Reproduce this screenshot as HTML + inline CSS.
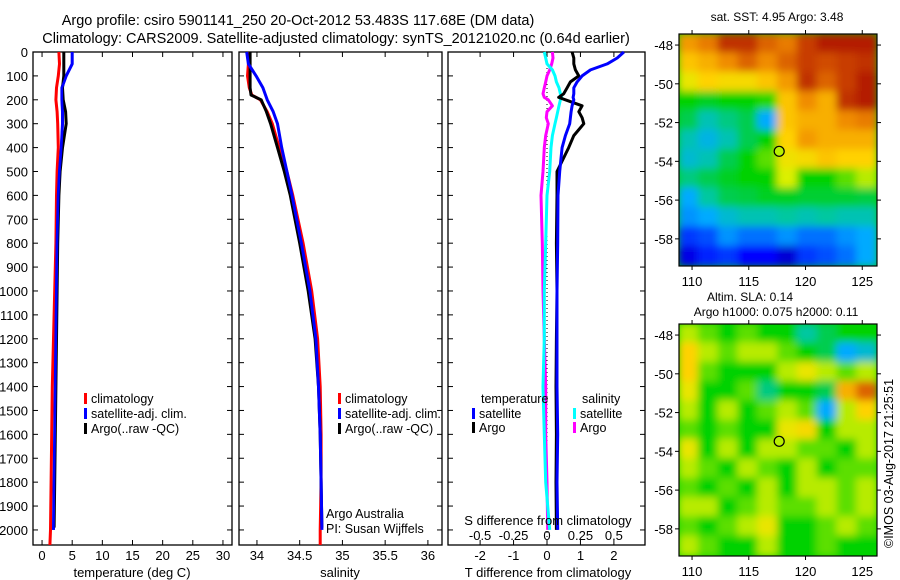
<!DOCTYPE html>
<html><head><meta charset="utf-8"><style>
html,body{margin:0;padding:0;background:#fff;}
svg{display:block;font-family:"Liberation Sans",sans-serif;}
</style></head><body>
<svg id="fig" width="900" height="580" viewBox="0 0 900 580" xmlns="http://www.w3.org/2000/svg">
<text x="298" y="25" font-size="14.5" text-anchor="middle">Argo profile: csiro 5901141_250 20-Oct-2012 53.483S 117.68E (DM data)</text>
<text x="336" y="43" font-size="14.5" text-anchor="middle">Climatology: CARS2009. Satellite-adjusted climatology: synTS_20121020.nc (0.64d earlier)</text>
<g id="g1"></g>
<g id="g2"></g>
<g id="g3"></g>
<g id="m1"></g>
<g id="m2"></g>
<text transform="translate(893,548) rotate(-90)" font-size="12.5">©IMOS 03-Aug-2017 21:25:51</text>
</svg>
<script>
// ---- data ----
const tDepths=[0,50,100,150,200,250,300,400,500,600,800,1000,1200,1400,1600,1800,2000];
const tClimDepths=[0,50,100,150,200,250,300,400,500,600,800,1000,1200,1400,1600,1800,2000,2063];
const tClim=[2.8,2.9,2.7,2.4,2.3,2.5,2.6,2.7,2.5,2.4,2.3,2.1,1.9,1.7,1.6,1.5,1.4,1.3];
const tSat=[5.0,5.0,4.0,3.3,3.3,3.4,3.4,3.2,2.9,2.7,2.5,2.4,2.3,2.2,2.1,2.0,1.9];
const tArgo=[3.6,3.6,3.6,3.4,3.5,3.9,4.0,3.4,3.0,2.8,2.6,2.5,2.4,2.3,2.2,2.1,2.0];
const sDepths=[0,50,100,150,180,200,250,300,400,500,600,800,1000,1200,1400,1600,1800,2000];
const sClimDepths=[0,50,100,150,180,200,250,300,400,500,600,800,1000,1200,1400,1600,1800,2000,2063];
const sArgo=[33.92,33.92,33.92,33.92,33.93,34.05,34.11,34.16,34.24,34.32,34.39,34.5,34.6,34.68,34.72,34.74,34.75,34.76];
const sClim=[33.90,33.90,33.89,33.91,33.94,34.04,34.12,34.18,34.26,34.35,34.42,34.54,34.64,34.71,34.74,34.75,34.75,34.74,34.74];
const sSat=[33.88,33.90,33.99,34.07,34.1,34.12,34.19,34.24,34.29,34.35,34.41,34.52,34.62,34.69,34.72,34.74,34.75,34.76];
const dDepths=[0,25,50,75,100,125,150,175,190,200,225,250,275,300,350,400,500,600,800,1000,1200,1400,1600,1800,2000];
const dTSat=[2.3,2.1,1.8,1.3,1.05,0.9,0.8,0.8,0.78,0.8,0.75,0.72,0.7,0.68,0.55,0.45,0.38,0.33,0.32,0.3,0.3,0.3,0.32,0.3,0.32];
const dTArgo=[0.75,0.8,0.8,0.85,0.95,0.7,0.6,0.5,0.35,0.55,1.05,0.95,1.05,1.1,0.8,0.65,0.3,0.3,0.28,0.3,0.28,0.27,0.28,0.27,0.28];
const dSArgo=[0.04,0.045,0.035,0.02,0.0,-0.01,-0.02,-0.03,-0.02,0.01,0.04,0.0,-0.005,0.01,-0.01,-0.02,-0.03,-0.045,-0.035,-0.03,-0.02,-0.01,-0.01,0,0.005];
const dSSat=[-0.02,-0.01,0.0,0.04,0.06,0.07,0.09,0.1,0.11,0.1,0.09,0.08,0.07,0.06,0.04,0.03,0.02,0.0,-0.01,-0.02,-0.02,-0.03,-0.02,-0.01,0.02];
const depthTicks=[0,100,200,300,400,500,600,700,800,900,1000,1100,1200,1300,1400,1500,1600,1700,1800,1900,2000];
const tTicks=[0,5,10,15,20,25,30];
const sTicks=["34","34.5","35","35.5","36"];
const dTTicks=["-2","-1","0","1","2"];
const dSTicks=["-0.5","-0.25","0","0.25","0.5"];
const sstGrid=[
[0.78,0.82,0.92,0.92,0.85,0.82,0.9,0.95,0.95,0.95],
[0.72,0.75,0.8,0.85,0.8,0.85,0.9,0.88,0.9,0.92],
[0.65,0.7,0.68,0.68,0.72,0.78,0.92,0.85,0.9,0.95],
[0.5,0.48,0.5,0.5,0.52,0.72,0.8,0.75,0.92,0.95],
[0.45,0.38,0.42,0.45,0.3,0.72,0.75,0.75,0.8,0.82],
[0.38,0.33,0.38,0.45,0.5,0.7,0.78,0.75,0.75,0.75],
[0.35,0.38,0.45,0.5,0.55,0.66,0.68,0.72,0.7,0.7],
[0.42,0.45,0.48,0.5,0.5,0.62,0.5,0.5,0.55,0.6],
[0.3,0.4,0.45,0.46,0.48,0.48,0.47,0.47,0.47,0.46],
[0.28,0.3,0.35,0.38,0.38,0.4,0.38,0.4,0.38,0.38],
[0.2,0.22,0.28,0.25,0.25,0.28,0.25,0.25,0.28,0.3],
[0.12,0.18,0.2,0.15,0.15,0.1,0.2,0.22,0.25,0.3]];
const slaGrid=[
[0.6,0.55,0.5,0.55,0.5,0.5,0.4,0.45,0.5,0.5],
[0.7,0.6,0.55,0.6,0.6,0.55,0.5,0.45,0.3,0.35],
[0.7,0.55,0.5,0.5,0.5,0.6,0.65,0.6,0.55,0.6],
[0.65,0.5,0.5,0.55,0.42,0.5,0.5,0.45,0.75,0.85],
[0.6,0.5,0.6,0.5,0.55,0.6,0.55,0.3,0.6,0.7],
[0.55,0.5,0.55,0.5,0.5,0.65,0.68,0.5,0.6,0.6],
[0.65,0.5,0.6,0.5,0.6,0.6,0.55,0.55,0.5,0.6],
[0.6,0.55,0.5,0.6,0.55,0.5,0.6,0.5,0.55,0.55],
[0.55,0.5,0.55,0.5,0.6,0.5,0.6,0.6,0.55,0.6],
[0.6,0.6,0.5,0.55,0.6,0.55,0.55,0.6,0.55,0.6],
[0.55,0.5,0.55,0.6,0.65,0.5,0.5,0.55,0.6,0.55],
[0.6,0.55,0.5,0.5,0.6,0.5,0.5,0.55,0.5,0.5]];
const lonTicks=[110,115,120,125];
const latTicks=[-48,-50,-52,-54,-56,-58];
const argoPos=[117.68,-53.483];

const NS="http://www.w3.org/2000/svg";
function mk(tag,attrs,parent){const e=document.createElementNS(NS,tag);for(const k in attrs)e.setAttribute(k,attrs[k]);parent.appendChild(e);return e;}
const TOP=52,BOT=545,DMAX=2063;
const yD=d=>TOP+d/DMAX*(BOT-TOP);
function lin(d0,d1,r0,r1){return v=>r0+(v-d0)/(d1-d0)*(r1-r0);}

function frame(g,x0,x1,labels){
  const r=mk('rect',{x:x0,y:TOP,width:x1-x0,height:BOT-TOP,fill:'none',stroke:'#000','stroke-width':1.3},g);
  
  depthTicks.forEach(d=>{
    const y=yD(d);
    mk('line',{x1:x0,x2:x0+5,y1:y,y2:y,stroke:'#000'},g);
    mk('line',{x1:x1-5,x2:x1,y1:y,y2:y,stroke:'#000'},g);
    if(labels){const t=mk('text',{x:x0-5,y:y+5,'font-size':13,'text-anchor':'end'},g);t.textContent=d;
      }
  });
}
function xticks(g,vals,sx,y,labelY){
  vals.forEach(v=>{const x=sx(parseFloat(v));
    mk('line',{x1:x,x2:x,y1:BOT,y2:BOT-5,stroke:'#000'},g);
    mk('line',{x1:x,x2:x,y1:TOP,y2:TOP+5,stroke:'#000'},g);
    const t=mk('text',{x:x,y:labelY,'font-size':13,'text-anchor':'middle'},g);t.textContent=v;
    });
}
function line(g,xs,ds,sx,color,name,w){
  const pts=xs.map((v,i)=>sx(v).toFixed(1)+','+yD(ds[i]).toFixed(1)).join(' ');
  const p=mk('polyline',{points:pts,fill:'none',stroke:color,'stroke-width':w||3,'stroke-linejoin':'round'},g);
  
}
function legend(g,x,y,color,label){
  mk('rect',{x:x,y:y-10,width:3,height:11,fill:color},g);
  const t=mk('text',{x:x+7,y:y,'font-size':12.5},g);t.textContent=label;
  
}
function txt(g,x,y,s,anchor,size,name){const t=mk('text',{x:x,y:y,'font-size':size||13,'text-anchor':anchor||'start'},g);t.textContent=s;
  return t;}

// panel 1
const g1=document.getElementById('g1');
const sx1=lin(-1.5,31.5,33,232);
frame(g1,33,232,true);
xticks(g1,tTicks,sx1,BOT,560);
line(g1,tClim,tClimDepths,sx1,'#f00','climatology-temp-line');
line(g1,tSat,tDepths,sx1,'#00f','satellite-temp-line');
line(g1,tArgo,tDepths.map(d=>Math.min(d,1990)),sx1,'#000','argo-temp-line');
line(g1,tSat,tDepths,sx1,'#00f','satellite-temp-line-top',2.5);
legend(g1,84,403,'#f00','climatology');
legend(g1,84,418,'#00f','satellite-adj. clim.');
legend(g1,84,433,'#000','Argo(..raw -QC)');
txt(g1,132,577,'temperature (deg C)','middle',13,'x-axis-title');

// panel 2
const g2=document.getElementById('g2');
const sx2=lin(33.79,36.165,239,442);
frame(g2,239,442,false);
xticks(g2,sTicks,sx2,BOT,560);
line(g2,sClim,sClimDepths,sx2,'#f00','climatology-sal-line');
line(g2,sArgo,sDepths.map(d=>Math.min(d,1990)),sx2,'#000','argo-sal-line');
line(g2,sSat,sDepths,sx2,'#00f','satellite-sal-line');
legend(g2,338,403,'#f00','climatology');
legend(g2,338,418,'#00f','satellite-adj. clim.');
legend(g2,338,433,'#000','Argo(..raw -QC)');
txt(g2,326,518,'Argo Australia','start',12.5,'credit-line-1');
txt(g2,326,533,'PI: Susan Wijffels','start',12.5,'credit-line-2');
txt(g2,340,577,'salinity','middle',13,'x-axis-title');

// panel 3
const g3=document.getElementById('g3');
const sxT=lin(-2.96,2.93,448,645);
const sxS=v=>sxT(v*4);
frame(g3,448,645,false);
xticks(g3,dTTicks,sxT,BOT,560);
dSTicks.forEach(v=>{const t=txt(g3,sxS(parseFloat(v)),540,v,'middle',13,'s-tick-label');});
mk('line',{x1:sxT(0),x2:sxT(0),y1:TOP,y2:BOT,stroke:'#000','stroke-dasharray':'1,3'},g3);
line(g3,dSArgo,dDepths,sxS,'#f0f','argo-sal-diff-line');
line(g3,dSSat,dDepths,sxS,'#0ff','satellite-sal-diff-line');
line(g3,dTArgo,dDepths,sxT,'#000','argo-temp-diff-line');
line(g3,dTSat,dDepths,sxT,'#00f','satellite-temp-diff-line');
txt(g3,481,403,'temperature','start',12.5,'legend-heading-temp');
txt(g3,582,403,'salinity','start',12.5,'legend-heading-sal');
legend(g3,472,418,'#00f','satellite');
legend(g3,472,432,'#000','Argo');
legend(g3,573,418,'#0ff','satellite');
legend(g3,573,432,'#f0f','Argo');
txt(g3,548,525,'S difference from climatology','middle',13,'s-axis-title');
txt(g3,548,577,'T difference from climatology','middle',13,'t-axis-title');

// maps
const stops=[[0,[0,0,130]],[0.15,[0,0,255]],[0.3,[0,170,255]],[0.4,[0,200,160]],[0.5,[0,210,0]],[0.62,[220,240,0]],[0.7,[255,210,0]],[0.8,[240,140,0]],[0.9,[200,60,0]],[1,[160,0,0]]];
function cmap(v){for(let i=1;i<stops.length;i++){if(v<=stops[i][0]){const a=stops[i-1],b=stops[i],t=(v-a[0])/(b[0]-a[0]);
  return 'rgb('+a[1].map((c,k)=>Math.round(c+(b[1][k]-c)*t)).join(',')+')';}}return 'rgb(160,0,0)';}
function drawMap(id,grid,top){
  const g=document.getElementById(id);
  const x0=679,x1=877,y0=top,y1=top+232;
  const lx=lin(108.85,126.3,x0,x1), ly=lin(-47.43,-59.4,y0,y1);
  const clipId='clip'+id;
  const cp=mk('clipPath',{id:clipId},g);mk('rect',{x:x0,y:y0,width:x1-x0,height:y1-y0},cp);
  const fid='blur'+id;
  const f=mk('filter',{id:fid,x:'-10%',y:'-10%',width:'120%',height:'120%'},g);mk('feGaussianBlur',{stdDeviation:4},f);
  const cg=mk('g',{'clip-path':'url(#'+clipId+')'},g);
  mk('rect',{x:x0,y:y0,width:x1-x0,height:y1-y0,fill:cmap(0.5)},cg);
  const bg=mk('g',{filter:'url(#'+fid+')'},cg);
  const rows=grid.length,cols=grid[0].length,cw=(x1-x0)/cols,ch=(y1-y0)/rows;
  grid.forEach((row,r)=>row.forEach((v,c)=>{
    const cell=mk('rect',{x:x0+c*cw-1,y:y0+r*ch-1,width:cw+2,height:ch+2,fill:cmap(v)},bg);
    
  }));
  const fr=mk('rect',{x:x0,y:y0,width:x1-x0,height:y1-y0,fill:'none',stroke:'#000','stroke-width':1.2},g);
  
  lonTicks.forEach(v=>{const x=lx(v);mk('line',{x1:x,x2:x,y1:y1,y2:y1+4,stroke:'#000'},g);mk('line',{x1:x,x2:x,y1:y0,y2:y0-4,stroke:'#000'},g);
    txt(g,x,y1+20,String(v),'middle',13,'lon-tick-label');});
  latTicks.forEach(v=>{const y=ly(v);mk('line',{x1:x0,x2:x0-4,y1:y,y2:y,stroke:'#000'},g);mk('line',{x1:x1,x2:x1+4,y1:y,y2:y,stroke:'#000'},g);
    txt(g,x0-6,y+5,String(v),'end',13,'lat-tick-label');});
  const m=mk('circle',{cx:lx(argoPos[0]),cy:ly(argoPos[1]),r:5,style:'fill:#b8f000',stroke:'#000','stroke-width':1.2},g);
  
}
drawMap('m1',sstGrid,34);
drawMap('m2',slaGrid,324);
const svg=document.getElementById('fig');
txt(svg,777,21,'sat. SST: 4.95 Argo: 3.48','middle',12,'sst-map-title');
txt(svg,750,301,'Altim. SLA: 0.14','middle',12,'sla-map-title');
txt(svg,776,316,'Argo h1000: 0.075 h2000: 0.11','middle',12,'sla-map-subtitle');
</script>
</body></html>
